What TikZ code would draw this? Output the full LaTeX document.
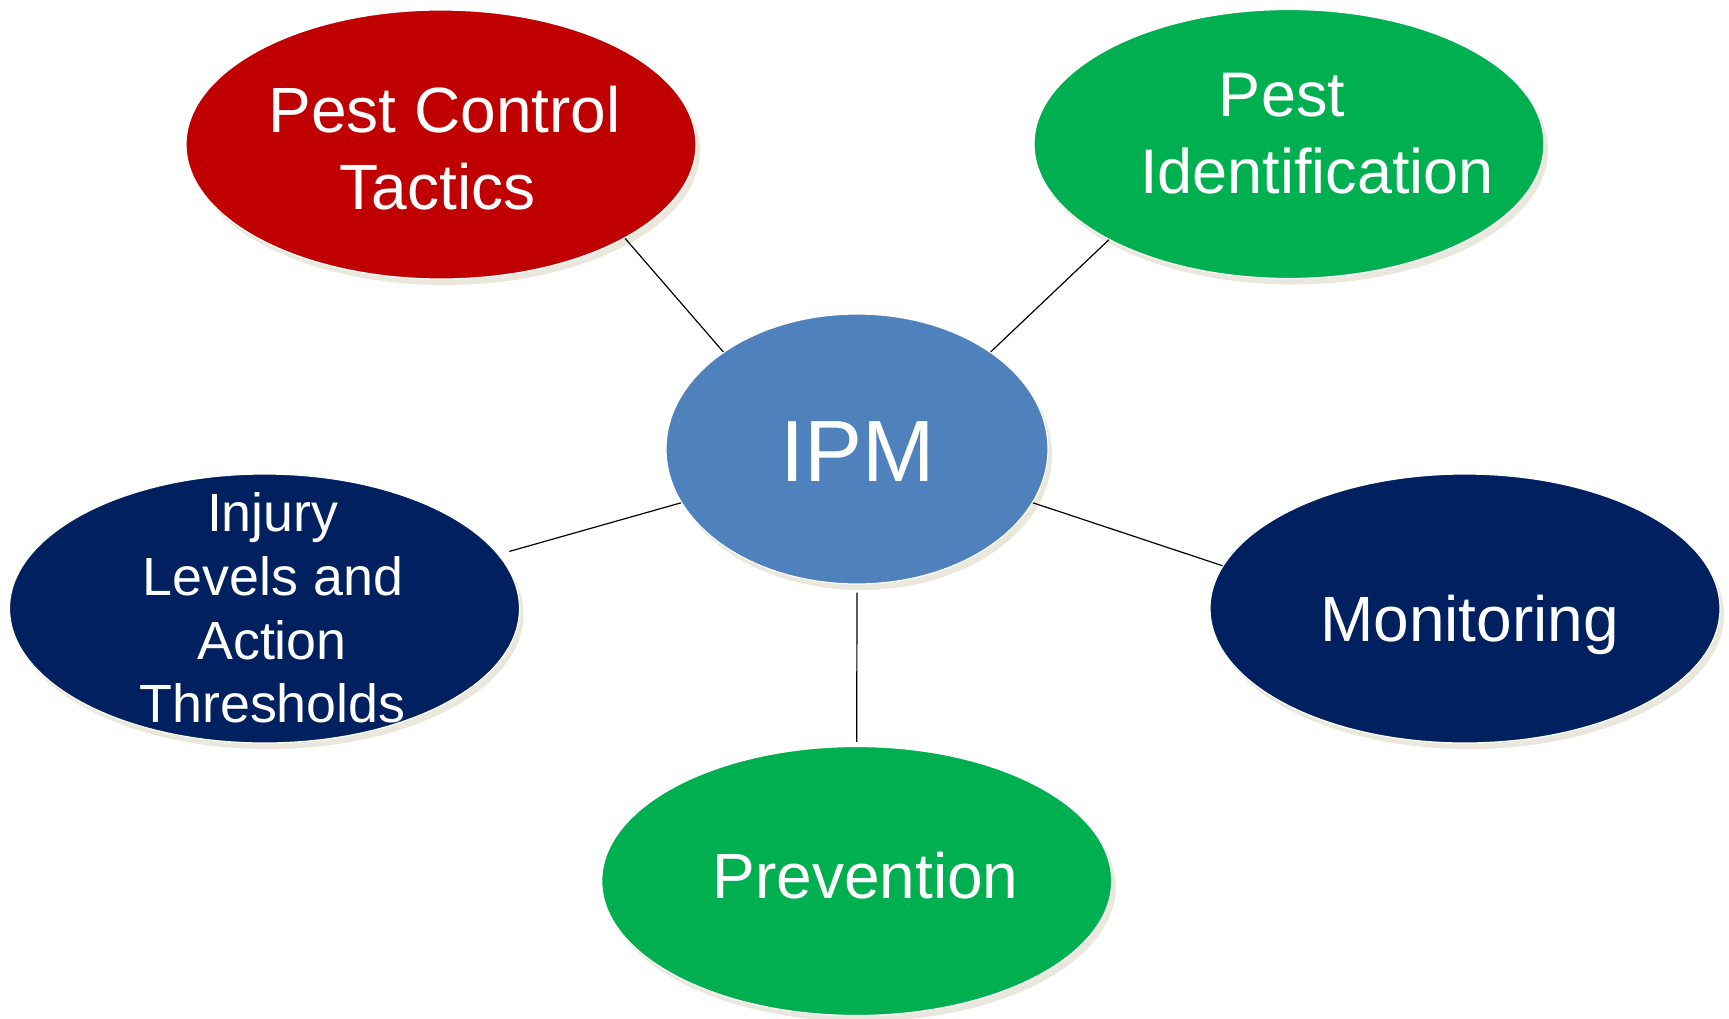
\documentclass[tikz,border=0pt]{standalone}
\usepackage{fontspec}
\setmainfont{Liberation Sans}
\usetikzlibrary{shapes.geometric,shadows}
\definecolor{pcred}{RGB}{192,0,0}
\definecolor{pgreen}{RGB}{0,176,80}
\definecolor{pblue}{RGB}{79,129,189}
\definecolor{pnavy}{RGB}{0,32,96}
\definecolor{pshadow}{RGB}{234,232,220}
\begin{document}
\begin{tikzpicture}[x=1pt,y=-1pt,
  bubble/.style={ellipse, inner sep=0pt, minimum width=510pt, minimum height=269pt,
    draw=white, line width=1.2pt,
    drop shadow={shadow xshift=4pt, shadow yshift=-6pt, fill=pshadow, opacity=1}},
  lbl/.style={anchor=base, text=white, inner sep=0pt},
  big/.style={font=\fontsize{64}{77}\selectfont},
  mid/.style={font=\fontsize{53.8}{64}\selectfont},
  link/.style={line width=1.2pt, draw=black}]
\fill[white] (0,0) rectangle (1729,1018);
\useasboundingbox (0,0) rectangle (1729,1018);
% bubbles
\node[bubble, fill=pcred] (pct) at (441,144.5) {};
\node[bubble, fill=pgreen] (pid) at (1289,144) {};
\node[bubble, fill=pblue, minimum width=382pt, minimum height=270pt] (ipm) at (857,449) {};
\node[bubble, fill=pnavy] (inj) at (264.5,608.5) {};
\node[bubble, fill=pnavy] (mon) at (1465,608.5) {};
\node[bubble, fill=pgreen] (prev) at (856.7,881) {};
% connectors
\draw[link] (pct.-27.5) -- (ipm.144);
\draw[link] (pid.-152.2) -- (ipm.36.1);
\draw[link, shorten <=11pt] (inj.13.7) -- (ipm.-163.2);
\draw[link] (mon.170.5) -- (ipm.-17.6);
\draw[link, shorten <=8pt, shorten >=4pt] (ipm.south) -- (prev.north);
% texts
\node[lbl, big] (t1a) at (444.5,132.7) {Pest Control};
\node[lbl, big] (t1b) at (437.5,209.3) {Tactics};
\node[lbl, font=\fontsize{63}{76}\selectfont] (t2a) at (1282,116.7) {Pest};
\node[lbl, font=\fontsize{63}{76}\selectfont] (t2b) at (1317,193.3) {Identification};
\node[lbl, font=\fontsize{87}{100}\selectfont] (t3) at (857.5,481.7) {IPM};
\node[lbl, mid] (t4a) at (272.8,531) {Injury};
\node[lbl, mid] (t4b) at (273,595) {Levels and};
\node[lbl, mid] (t4c) at (272,659.3) {Action};
\node[lbl, mid] (t4d) at (272.5,722.3) {Thresholds};
\node[lbl, big] (t5) at (1469.5,641.7) {Monitoring};
\node[lbl, big] (t6) at (865.5,898) {Prevention};
\end{tikzpicture}
\end{document}
